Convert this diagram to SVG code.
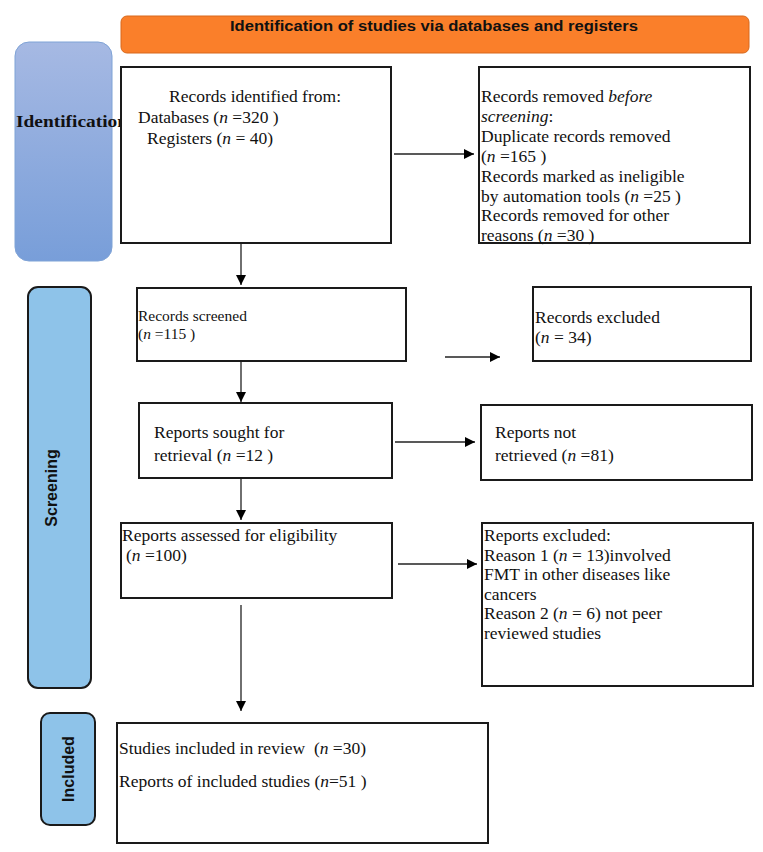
<svg xmlns="http://www.w3.org/2000/svg" width="763" height="852" viewBox="0 0 763 852">
<defs>
<linearGradient id="idgrad" x1="0" y1="0" x2="0" y2="1">
<stop offset="0" stop-color="#a6b9e3"/>
<stop offset="1" stop-color="#789ed9"/>
</linearGradient>
<marker id="ah" viewBox="0 0 10 10" refX="10" refY="5" markerWidth="10" markerHeight="10" markerUnits="userSpaceOnUse" orient="auto">
<path d="M0,0 L10,5 L0,10 Z" fill="#000"/>
</marker>
</defs>
<style>
.box{fill:#fff;stroke:#1a1a1a;stroke-width:2}
.t{font-family:"Liberation Serif","DejaVu Serif",serif;font-size:17.5px;fill:#111}
.ts{font-family:"Liberation Serif","DejaVu Serif",serif;font-size:15.5px;fill:#111}
.side{fill:#8ec3e9;stroke:#1a1a1a;stroke-width:2}
.sl{font-family:"Liberation Sans","DejaVu Sans",sans-serif;font-weight:bold;font-size:16px;fill:#111}
.c{stroke:#222;stroke-width:1.3;fill:none;marker-end:url(#ah)}
</style>

<g id="header">
<rect x="121" y="16" width="628" height="37" rx="6" fill="#fa7f2a" stroke="#d8691c" stroke-width="1"/>
<text x="434" y="31" text-anchor="middle" font-family="Liberation Sans,DejaVu Sans,sans-serif" font-weight="bold" font-size="14" fill="#111" textLength="408" lengthAdjust="spacingAndGlyphs">Identification of studies via databases and registers</text>
</g>

<g id="side-identification">
<rect x="15" y="42" width="97" height="219" rx="14" fill="url(#idgrad)" stroke="#7fa3d6" stroke-width="1"/>
<text x="16" y="127" font-family="Liberation Serif,DejaVu Serif,serif" font-weight="bold" font-size="17" fill="#111" textLength="112" lengthAdjust="spacingAndGlyphs">Identification</text>
</g>

<g id="side-screening">
<rect x="28" y="287" width="63" height="401" rx="10" class="side"/>
<text transform="translate(57,488) rotate(-90)" text-anchor="middle" class="sl">Screening</text>
</g>

<g id="side-included">
<rect x="41" y="713" width="54" height="112" rx="9" class="side"/>
<text transform="translate(74,769) rotate(-90)" text-anchor="middle" class="sl">Included</text>
</g>

<g id="records-identified">
<rect x="121" y="67" width="270" height="176" class="box"/>
<text x="255" y="102" text-anchor="middle" class="t">Records identified from:</text>
<text x="138" y="123" class="t">Databases (<tspan font-style="italic">n</tspan> =320 )</text>
<text x="147" y="144" class="t">Registers (<tspan font-style="italic">n</tspan> = 40)</text>
</g>

<g id="records-removed">
<rect x="479" y="67" width="271" height="176" class="box"/>
<text class="t">
<tspan x="481" y="102">Records removed <tspan font-style="italic">before</tspan></tspan>
<tspan x="481" y="122"><tspan font-style="italic">screening</tspan>:</tspan>
<tspan x="481" y="142">Duplicate records removed</tspan>
<tspan x="481" y="162">(<tspan font-style="italic">n</tspan> =165 )</tspan>
<tspan x="481" y="182">Records marked as ineligible</tspan>
<tspan x="481" y="202">by automation tools (<tspan font-style="italic">n</tspan> =25 )</tspan>
<tspan x="481" y="221">Records removed for other</tspan>
<tspan x="481" y="241">reasons (<tspan font-style="italic">n</tspan> =30 )</tspan>
</text>
</g>

<g id="records-screened">
<rect x="137" y="288" width="269" height="73" class="box"/>
<text x="138" y="321" class="ts">Records screened</text>
<text x="138" y="339" class="ts">(<tspan font-style="italic">n</tspan> =115 )</text>
</g>

<g id="records-excluded">
<rect x="533" y="287" width="218" height="74" class="box"/>
<text x="535" y="323" class="t">Records excluded</text>
<text x="535" y="343" class="t">(<tspan font-style="italic">n</tspan> = 34)</text>
</g>

<g id="reports-sought">
<rect x="139" y="403" width="253" height="75" class="box"/>
<text x="154" y="438" class="t">Reports sought for</text>
<text x="154" y="461" class="t">retrieval (<tspan font-style="italic">n</tspan> =12 )</text>
</g>

<g id="reports-not-retrieved">
<rect x="481" y="405" width="271" height="75" class="box"/>
<text x="495" y="438" class="t">Reports not</text>
<text x="495" y="461" class="t">retrieved (<tspan font-style="italic">n</tspan> =81)</text>
</g>

<g id="reports-assessed">
<rect x="121" y="523" width="271" height="75" class="box"/>
<text x="122" y="541" class="t">Reports assessed for eligibility</text>
<text x="126" y="561" class="t">(<tspan font-style="italic">n</tspan> =100)</text>
</g>

<g id="reports-excluded">
<rect x="482" y="523" width="271" height="163" class="box"/>
<text class="t">
<tspan x="484" y="541">Reports excluded:</tspan>
<tspan x="484" y="561">Reason 1 (<tspan font-style="italic">n</tspan> = 13)involved</tspan>
<tspan x="484" y="580">FMT in other diseases like</tspan>
<tspan x="484" y="600">cancers</tspan>
<tspan x="484" y="619">Reason 2 (<tspan font-style="italic">n</tspan> = 6) not peer</tspan>
<tspan x="484" y="639">reviewed studies</tspan>
</text>
</g>

<g id="studies-included">
<rect x="117" y="723" width="371" height="120" class="box"/>
<text x="119" y="754" class="t" xml:space="preserve">Studies included in review  (<tspan font-style="italic">n</tspan> =30)</text>
<text x="119" y="787" class="t">Reports of included studies (<tspan font-style="italic">n</tspan>=51 )</text>
</g>

<g id="connectors">
<line x1="394" y1="154" x2="474" y2="154" class="c"/>
<line x1="241" y1="244" x2="241" y2="285" class="c"/>
<line x1="445" y1="357" x2="500" y2="357" class="c"/>
<line x1="241" y1="362" x2="241" y2="402" class="c"/>
<line x1="395" y1="442" x2="475" y2="442" class="c"/>
<line x1="241" y1="479" x2="241" y2="520" class="c"/>
<line x1="398" y1="564" x2="477" y2="564" class="c"/>
<line x1="241" y1="605" x2="241" y2="711" class="c"/>
</g>
</svg>
